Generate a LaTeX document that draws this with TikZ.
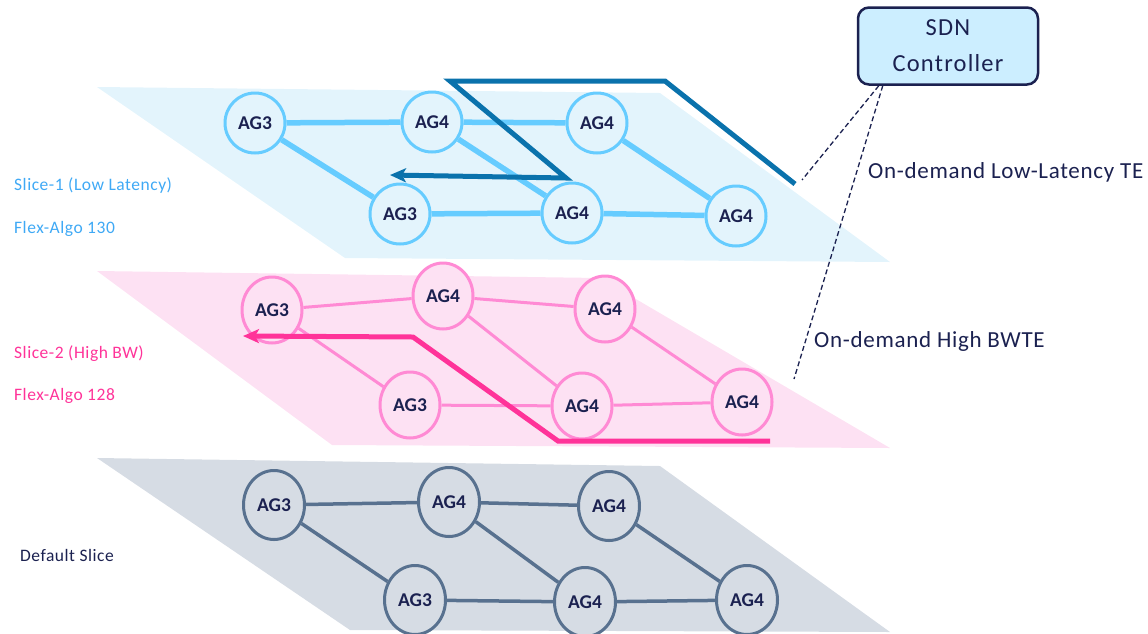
\documentclass[tikz,border=0pt]{standalone}
\usepackage{fontspec}
\setmainfont{Carlito}
\usetikzlibrary{shapes.geometric,arrows.meta}
\definecolor{planeA}{HTML}{E3F4FC}
\definecolor{lineA}{HTML}{66CCFF}
\definecolor{pathA}{HTML}{0A72AC}
\definecolor{planeB}{HTML}{FDE1F3}
\definecolor{lineB}{HTML}{FF8AD4}
\definecolor{pathB}{HTML}{FF3399}
\definecolor{planeC}{HTML}{D6DCE4}
\definecolor{lineC}{HTML}{58718F}
\definecolor{navy}{HTML}{1B2150}
\definecolor{txtA}{HTML}{3FA9F5}
\definecolor{txtB}{HTML}{FF3399}
\definecolor{sdnfill}{HTML}{CCEEFF}
\tikzset{
  agbase/.style={ellipse, inner sep=0pt, text=navy, font=\fontsize{19.5}{19.5}\selectfont\bfseries},
  nA/.style={agbase, draw=lineA, line width=3pt, fill=planeA, minimum width=60pt, minimum height=60pt},
  nB/.style={agbase, draw=lineB, line width=3pt, fill=planeB, minimum width=60pt, minimum height=66pt},
  nC/.style={agbase, draw=lineC, line width=3pt, fill=planeC, minimum width=61pt, minimum height=69pt},
  eA/.style={draw=lineA, line width=5.5pt},
  eB/.style={draw=lineB, line width=3pt},
  eC/.style={draw=lineC, line width=3.5pt},
  slicelbl/.style={anchor=west, font=\fontsize{17.5}{17.5}\selectfont\addfontfeature{LetterSpace=3}, inner sep=0pt},
  telbl/.style={anchor=west, text=navy, font=\fontsize{23}{23}\selectfont\addfontfeature{LetterSpace=3}, inner sep=0pt},
  dashlink/.style={draw=navy, line width=1.3pt, dash pattern=on 5pt off 3pt},
  tearrow/.style={line width=5pt, -{Stealth[length=16pt,width=14pt,inset=4pt]}},
}
\begin{document}
\begin{tikzpicture}[x=1pt, y=-1pt]
\useasboundingbox (0,0) rectangle (1148,633);
% planes
\fill[planeA] (97,87) -- (660,93) -- (890,262) -- (345,258) -- cycle;
\fill[planeB] (97,271) -- (600,278) -- (890,448) -- (332,445) -- cycle;
\fill[planeC] (97,458) -- (660,466) -- (890,632) -- (350,630) -- cycle;
% top slice nodes
\node[nA] (a1) at (255,123) {AG3};
\node[nA] (a2) at (432,122) {AG4};
\node[nA] (a3) at (597,123) {AG4};
\node[nA] (a4) at (400,214) {AG3};
\node[nA] (a5) at (572,213) {AG4};
\node[nA] (a6) at (736,216) {AG4};
% pink slice nodes
\node[nB] (b1) at (272,310) {AG3};
\node[nB] (b2) at (443,296) {AG4};
\node[nB] (b3) at (605,309) {AG4};
\node[nB] (b4) at (410,405) {AG3};
\node[nB] (b5) at (582,406) {AG4};
\node[nB] (b6) at (742,402) {AG4};
% gray slice nodes
\node[nC] (c1) at (274,505) {AG3};
\node[nC] (c2) at (449,502) {AG4};
\node[nC] (c3) at (609,506) {AG4};
\node[nC] (c4) at (415,600) {AG3};
\node[nC] (c5) at (585,602) {AG4};
\node[nC] (c6) at (747,600) {AG4};
% edges
\draw[eA] (a1) -- (a2); \draw[eA] (a2) -- (a3);
\draw[eA] (a1) -- (a4); \draw[eA] (a2) -- (a5); \draw[eA] (a3) -- (a6);
\draw[eA] (a4) -- (a5); \draw[eA] (a5) -- (a6);
\draw[eB] (b1) -- (b2); \draw[eB] (b2) -- (b3);
\draw[eB] (b1) -- (b4); \draw[eB] (b2) -- (b5); \draw[eB] (b3) -- (b6);
\draw[eB] (b4) -- (b5); \draw[eB] (b5) -- (b6);
\draw[eC] (c1) -- (c2); \draw[eC] (c2) -- (c3);
\draw[eC] (c1) -- (c4); \draw[eC] (c2) -- (c5); \draw[eC] (c3) -- (c6);
\draw[eC] (c4) -- (c5); \draw[eC] (c5) -- (c6);
% TE paths
\coordinate (pa0) at (795,184);
\coordinate (pa1) at (665,81);
\coordinate (pa2) at (450,81);
\coordinate (pa3) at (566,178);
\coordinate (pa4) at (390,175);
\draw[draw=pathA, tearrow] (pa0) -- (pa1) -- (pa2) -- (pa3) -- (pa4);
\coordinate (pb0) at (770,441);
\coordinate (pb1) at (558,441);
\coordinate (pb2) at (413,337);
\coordinate (pb3) at (243,336);
\draw[draw=pathB, tearrow] (pb0) -- (pb1) -- (pb2) -- (pb3);
% SDN controller
\node[draw=navy, line width=2.5pt, fill=sdnfill, rounded corners=11pt, minimum width=180pt, minimum height=77pt, align=center, text=navy, font=\fontsize{24.5}{36}\selectfont\addfontfeature{LetterSpace=5}] (sdn) at (948,46) {SDN\\Controller};
\coordinate (da) at (802,180);
\coordinate (db) at (794,379);
\draw[dashlink] ([xshift=22pt]sdn.south west) -- (da);
\draw[dashlink] ([xshift=26pt]sdn.south west) -- (db);
% labels
\node[telbl] (tl1) at (868,172) {On-demand Low-Latency TE};
\node[telbl] (tl2) at (814,341) {On-demand High BWTE};
\node[slicelbl, text=txtA] (s1) at (14,186) {Slice-1 (Low Latency)};
\node[slicelbl, text=txtA] (s1b) at (14,229) {Flex-Algo 130};
\node[slicelbl, text=txtB] (s2) at (14,354) {Slice-2 (High BW)};
\node[slicelbl, text=txtB] (s2b) at (14,396) {Flex-Algo 128};
\node[slicelbl, text=navy] (s3) at (20,555) {Default Slice};
\end{tikzpicture}
\end{document}
